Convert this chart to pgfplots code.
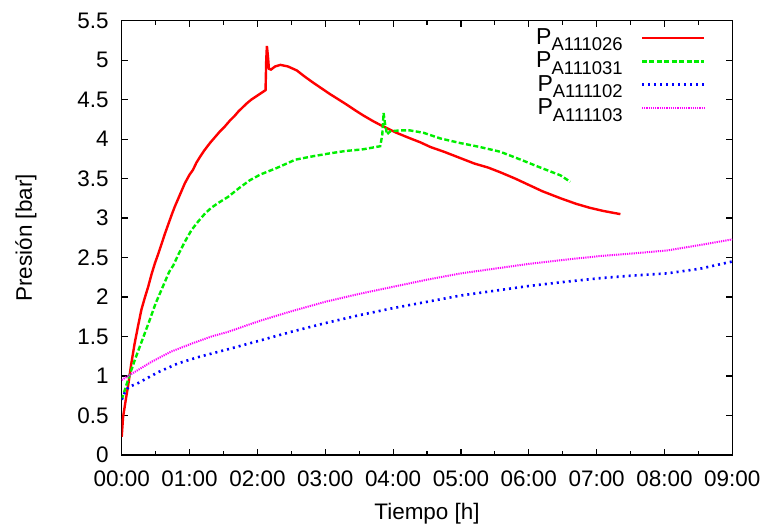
\documentclass[border=0pt]{standalone}
\usepackage{pgfplots}
\pgfplotsset{compat=1.18}
\usepackage{fontspec}
\setmainfont{Liberation Sans}
\definecolor{gpred}{RGB}{255,0,0}
\definecolor{gpgreen}{RGB}{0,238,0}
\definecolor{gpblue}{RGB}{0,0,255}
\definecolor{gpmag}{RGB}{255,0,255}
\begin{document}
\begin{tikzpicture}
\begin{axis}[name=ax,
 scale only axis, width=304.5pt, height=216.6pt,
 xmin=0, xmax=9, ymin=0, ymax=5.5,
 xtick={0,1,2,3,4,5,6,7,8,9},
 xticklabels={00:00,01:00,02:00,03:00,04:00,05:00,06:00,07:00,08:00,09:00},
 minor x tick num=1,
 ytick={0,0.5,1,1.5,2,2.5,3,3.5,4,4.5,5,5.5},
 yticklabels={0,0.5,1,1.5,2,2.5,3,3.5,4,4.5,5,5.5},
 tick align=inside, major tick length=3pt, minor tick length=2pt,
 axis line style={line width=0.7pt},
 every tick/.style={black, line width=0.6pt},
 font=\fontsize{11.2}{13}\selectfont,
 xticklabel style={yshift=-4.5pt},
 yticklabel style={xshift=-3pt},
 xlabel={Tiempo [h]}, ylabel={Presión [bar]},
 every axis x label/.style={at={(axis description cs:0.5,-0.134)},anchor=center},
 every axis y label/.style={at={(axis description cs:-0.157,0.5)},anchor=center,rotate=90},
 legend style={draw=none, fill=none, at={(axis description cs:0.96,0.997)}, anchor=north east,
   font=\fontsize{11.5}{13}\selectfont, row sep=-1.7pt, inner sep=1pt, column sep=7pt},
 legend cell align=right, legend plot pos=right,
 legend image code/.code={\draw[#1] (0pt,0pt) -- (31pt,0pt);},
]
\addplot[gpred, line width=1.2pt] coordinates {
(0,0.23) (0.02,0.48) (0.06,0.70) (0.1,0.91) (0.14,1.15) (0.19,1.41) (0.24,1.63) (0.29,1.84)
(0.34,1.99) (0.39,2.13) (0.44,2.29) (0.49,2.43) (0.54,2.55) (0.59,2.68) (0.64,2.81) (0.69,2.93)
(0.74,3.05) (0.78,3.14) (0.86,3.30) (0.93,3.44) (1.0,3.55) (1.05,3.61) (1.1,3.70) (1.15,3.77)
(1.22,3.86) (1.30,3.95) (1.37,4.02) (1.45,4.10) (1.52,4.16) (1.6,4.24) (1.66,4.29) (1.72,4.35)
(1.78,4.40) (1.84,4.45) (1.91,4.50) (1.98,4.54) (2.05,4.58) (2.12,4.62) (2.13,5.00) (2.14,5.18)
(2.155,5.05) (2.17,4.89) (2.2,4.88) (2.26,4.92) (2.34,4.94) (2.45,4.92) (2.58,4.87) (2.7,4.79)
(2.83,4.71) (2.95,4.64) (3.07,4.57) (3.2,4.50) (3.31,4.44) (3.45,4.36) (3.56,4.30) (3.7,4.23)
(3.81,4.18) (3.93,4.13) (4.05,4.08) (4.25,4.01) (4.4,3.96) (4.55,3.90) (4.75,3.84) (4.99,3.76)
(5.2,3.69) (5.4,3.64) (5.58,3.58) (5.8,3.50) (6.0,3.42) (6.2,3.34) (6.47,3.25) (6.7,3.18)
(6.9,3.13) (7.1,3.09) (7.35,3.05)
};
\addlegendentry{P\raisebox{-3.3pt}{\fontsize{9.2}{10}\selectfont A111026}}
\addplot[gpgreen, line width=1.2pt, dash pattern=on 2.5pt off 1.2pt] coordinates {
(0,0.70) (0.1,0.97) (0.2,1.22) (0.3,1.45) (0.4,1.68) (0.5,1.92) (0.6,2.12) (0.7,2.32)
(0.76,2.40) (0.83,2.53) (0.93,2.70) (1.03,2.85) (1.13,2.96) (1.23,3.06) (1.32,3.13) (1.42,3.19)
(1.57,3.27) (1.73,3.38) (1.89,3.48) (2.04,3.55) (2.3,3.64) (2.56,3.74) (2.8,3.78) (3.07,3.82)
(3.3,3.85) (3.55,3.87) (3.81,3.91) (3.84,4.05) (3.86,4.33) (3.88,4.20) (3.91,4.06) (3.96,4.10)
(4.1,4.11) (4.25,4.11) (4.45,4.08) (4.69,4.01) (4.99,3.95) (5.28,3.90) (5.58,3.84) (5.88,3.74)
(6.17,3.64) (6.47,3.54) (6.61,3.46)
};
\addlegendentry{P\raisebox{-3.3pt}{\fontsize{9.2}{10}\selectfont A111031}}
\addplot[gpblue, line width=1.3pt, dash pattern=on 1pt off 2pt] coordinates {
(0,0.70) (0.05,0.80) (0.1,0.86) (0.24,0.91) (0.54,1.05) (0.83,1.16) (1.13,1.24) (1.57,1.34)
(2.04,1.45) (2.5,1.56) (3,1.67) (3.5,1.77) (4,1.86) (4.5,1.94) (5,2.02) (5.5,2.08) (6,2.14)
(6.5,2.19) (7.06,2.24) (7.5,2.27) (8.04,2.30) (8.53,2.36) (9,2.45)
};
\addlegendentry{P\raisebox{-3.3pt}{\fontsize{9.2}{10}\selectfont A111102}}
\addplot[gpmag, line width=1pt, dash pattern=on 0.6pt off 0.5pt] coordinates {
(0,0.95) (0.15,1.03) (0.44,1.18) (0.73,1.31) (1.03,1.41) (1.32,1.50) (1.57,1.56) (2.04,1.70)
(2.5,1.82) (3,1.94) (3.5,2.04) (4,2.13) (4.5,2.22) (5,2.30) (5.5,2.36) (6,2.42) (6.5,2.47)
(7.06,2.52) (7.5,2.55) (8.04,2.59) (8.53,2.66) (9,2.73)
};
\addlegendentry{P\raisebox{-3.3pt}{\fontsize{9.2}{10}\selectfont A111103}}
\end{axis}
\pgfresetboundingbox
\path ([shift={(-60.7pt,-35.9pt)}]ax.south west) rectangle ([shift={(14.8pt,10.3pt)}]ax.north east);
\end{tikzpicture}
\end{document}
